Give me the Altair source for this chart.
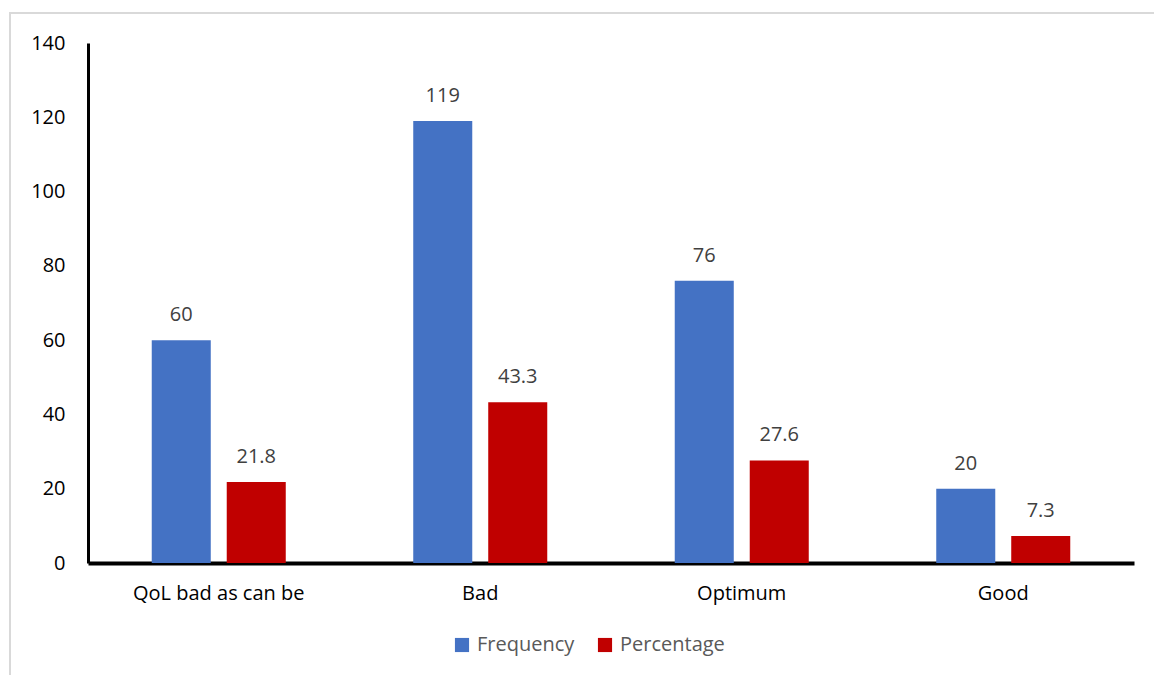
import altair as alt
import pandas as pd

categories = ["QoL bad as can be", "Bad", "Optimum", "Good"]
frequency = [60, 119, 76, 20]
percentage = [21.8, 43.3, 27.6, 7.3]
series = ["Frequency", "Percentage"]
colors = ["#4472C4", "#C00000"]

rows = []
for c, f, p in zip(categories, frequency, percentage):
    rows.append({"category": c, "series": "Frequency", "value": f, "label": f"{f:g}"})
    rows.append({"category": c, "series": "Percentage", "value": p, "label": f"{p:g}"})
df = pd.DataFrame(rows)

FONT = "Open Sans"
FS = 20

x = alt.X("category:N", sort=categories, title=None,
          scale=alt.Scale(paddingInner=0, paddingOuter=0),
          axis=alt.Axis(labelAngle=0, ticks=False, domainColor="black", domainWidth=4,
                        labelFontSize=FS, labelColor="black", labelFont=FONT, labelPadding=20))
xo = alt.XOffset("series:N", sort=series,
                 scale=alt.Scale(paddingInner=0.213, paddingOuter=0.85))
y = alt.Y("value:Q", title=None,
          scale=alt.Scale(domain=[0, 140], nice=False),
          axis=alt.Axis(values=[0, 20, 40, 60, 80, 100, 120, 140], grid=False, ticks=False,
                        domainColor="black", domainWidth=3, labelFontSize=FS,
                        labelColor="black", labelFont=FONT, labelPadding=23))
color = alt.Color("series:N", sort=series, title=None,
                  scale=alt.Scale(domain=series, range=colors),
                  legend=alt.Legend(orient="none", legendX=364, legendY=592, direction="horizontal",
                                    symbolType="square", symbolSize=200, symbolStrokeWidth=0,
                                    labelFontSize=FS, labelColor="#595959", labelFont=FONT,
                                    columnPadding=20, labelOffset=5))

bars = alt.Chart(df).mark_bar().encode(x=x, xOffset=xo, y=y, color=color)
labels = alt.Chart(df).mark_text(dy=-15, baseline="bottom", fontSize=FS, color="#404040",
                                 font=FONT).encode(x=x, xOffset=xo, y=y, text="label:N")
border = alt.Chart(df).mark_rect(fill=None, stroke="#d9d9d9", strokeWidth=2).encode(
    x=alt.value(-78), x2=alt.value(1200), y=alt.value(-30), y2=alt.value(700))

chart = alt.layer(border, bars, labels).properties(
    width=1046, height=520,
    autosize=alt.AutoSizeParams(type="none"),
    padding={"left": 88, "top": 43, "right": 20, "bottom": 112},
).configure(background="white").configure_view(stroke=None, strokeWidth=0)

chart.save("out.html", embed_options={"renderer": "svg", "actions": False})
